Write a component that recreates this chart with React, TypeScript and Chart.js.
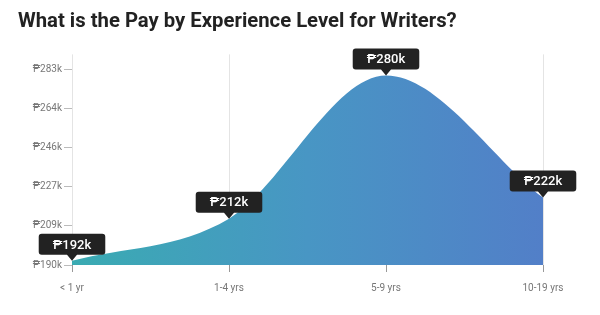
import React, { useEffect, useRef } from "react";
import { Chart, registerables } from "chart.js";

Chart.register(...registerables);

const categories = ["< 1 yr", "1-4 yrs", "5-9 yrs", "10-19 yrs"];
const payValues = [192000, 212000, 280000, 222000];
const payLabels = ["₱192k", "₱212k", "₱280k", "₱222k"];
const yTickValues = [190000, 208600, 227200, 245800, 264400, 283000];
const yTickLabels = ["₱190k", "₱209k", "₱227k", "₱246k", "₱264k", "₱283k"];
const titleText = "What is the Pay by Experience Level for Writers?";

const FONT = "Roboto, 'Noto Sans', 'DejaVu Sans', sans-serif";

const bubblePlugin = {
  id: "bubbles",
  afterDatasetsDraw(chart: any) {
    const ctx = chart.ctx;
    const meta = chart.getDatasetMeta(0);
    ctx.save();
    ctx.font = `500 13px ${FONT}`;
    meta.data.forEach((pt: any, i: number) => {
      const text = payLabels[i];
      const tw = ctx.measureText(text).width;
      const w = tw + 28;
      const h = 21;
      const x = pt.x;
      const tipY = pt.y;
      const bottom = tipY - 6;
      const top = bottom - h;
      const left = x - w / 2;
      const r = 3;
      ctx.fillStyle = "#222222";
      ctx.beginPath();
      ctx.moveTo(left + r, top);
      ctx.lineTo(left + w - r, top);
      ctx.quadraticCurveTo(left + w, top, left + w, top + r);
      ctx.lineTo(left + w, bottom - r);
      ctx.quadraticCurveTo(left + w, bottom, left + w - r, bottom);
      ctx.lineTo(x + 5, bottom);
      ctx.lineTo(x, tipY);
      ctx.lineTo(x - 5, bottom);
      ctx.lineTo(left + r, bottom);
      ctx.quadraticCurveTo(left, bottom, left, bottom - r);
      ctx.lineTo(left, top + r);
      ctx.quadraticCurveTo(left, top, left + r, top);
      ctx.closePath();
      ctx.fill();
      ctx.fillStyle = "#ffffff";
      ctx.textAlign = "center";
      ctx.textBaseline = "middle";
      ctx.fillText(text, x, top + h / 2 + 1);
    });
    ctx.restore();
  },
};

export default function App() {
  const canvasRef = useRef<HTMLCanvasElement | null>(null);

  useEffect(() => {
    document.body.style.margin = "0";
    const canvas = canvasRef.current;
    if (!canvas) return;
    const chart = new Chart(canvas, {
      type: "line",
      data: {
        labels: categories,
        datasets: [
          {
            data: payValues,
            fill: "start",
            borderWidth: 0,
            pointRadius: 0,
            cubicInterpolationMode: "monotone",
            backgroundColor: (c: any) => {
              const area = c.chart.chartArea;
              if (!area) return "#4a90c4";
              const g = c.chart.ctx.createLinearGradient(area.left, 0, area.right, 0);
              g.addColorStop(0, "#3aabb2");
              g.addColorStop(0.5, "#4896c4");
              g.addColorStop(1, "#527fc8");
              return g;
            },
          },
        ],
      },
      options: {
        responsive: false,
        animation: false,
        layout: { padding: { left: 18, right: 57, top: 0, bottom: 0 } },
        plugins: {
          legend: { display: false },
          tooltip: { enabled: false },
          title: {
            display: true,
            text: titleText,
            align: "start",
            color: "#222222",
            font: { family: FONT, size: 20.3, weight: "bold" },
            padding: { top: 10, bottom: 20 },
          },
        },
        scales: {
          x: {
            offset: false,
            border: { display: false },
            grid: {
              color: "#e4e4e4",
              drawOnChartArea: true,
              drawTicks: true,
              tickLength: 7,
              tickColor: "#999999",
            },
            ticks: {
              color: "#777777",
              padding: 10,
              font: { family: FONT, size: 10 },
            },
            afterFit(scale: any) {
              scale.height = 50;
            },
          },
          y: {
            min: 190000,
            max: 290000,
            border: { display: false },
            grid: {
              drawOnChartArea: false,
              drawTicks: true,
              tickLength: 8,
              tickColor: "#bbbbbb",
            },
            afterBuildTicks(scale: any) {
              scale.ticks = yTickValues.map((v) => ({ value: v }));
            },
            ticks: {
              color: "#777777",
              padding: 2,
              font: { family: FONT, size: 10 },
              callback: (v: any) => {
                const idx = yTickValues.indexOf(Number(v));
                return idx >= 0 ? yTickLabels[idx] : "";
              },
            },
            afterFit(scale: any) {
              scale.width = 54;
            },
          },
        },
      },
      plugins: [bubblePlugin],
    } as any);
    return () => chart.destroy();
  }, []);

  return (
    <div style={{ width: 600, height: 315, background: "#ffffff" }}>
      <canvas ref={canvasRef} width={600} height={315} />
    </div>
  );
}
